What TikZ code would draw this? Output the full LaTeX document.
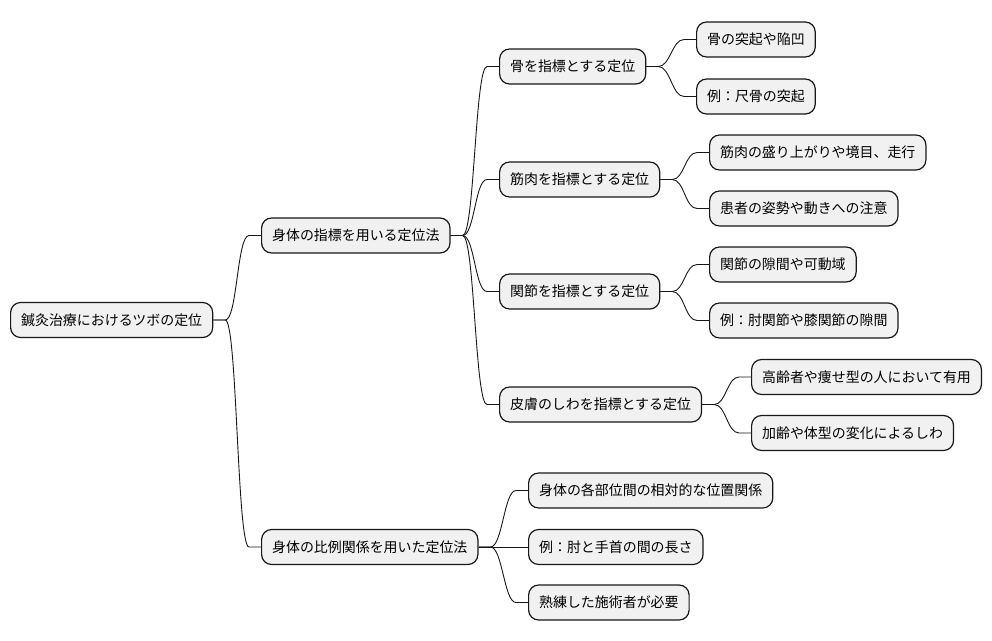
\documentclass[tikz,border=0pt]{standalone}
\usepackage{fontspec}
\newfontfamily\cjk{Noto Sans CJK JP}
\definecolor{boxfill}{HTML}{F1F1F1}
\definecolor{boxline}{HTML}{181818}
\tikzset{
  box/.style={draw=boxline, fill=boxfill, rounded corners=10pt, line width=1.2pt,
    minimum height=35pt, inner xsep=10.5pt, inner ysep=0pt, anchor=west,
    font=\cjk\fontsize{13.95}{16}\selectfont, text=black},
  link/.style={draw=boxline, line width=0.9pt}
}
\newcommand{\conn}[2]{\draw[link] (#1.east) -- ++(12,0) .. controls +(12,0) and +(-12,0) .. ([xshift=-12pt]#2.west) -- (#2.west);}
\begin{document}
\begin{tikzpicture}[x=1pt,y=-1pt]
\useasboundingbox (0,0) rectangle (992,640);
\node[box] (root) at (10,320) {鍼灸治療におけるツボの定位};
\node[box] (a) at (261,235.5) {身体の指標を用いる定位法};
\node[box] (b) at (261,547) {身体の比例関係を用いた定位法};
\node[box] (a1) at (499,66.5) {骨を指標とする定位};
\node[box] (a2) at (499,179.5) {筋肉を指標とする定位};
\node[box] (a3) at (499,291.5) {関節を指標とする定位};
\node[box] (a4) at (499,404.5) {皮膚のしわを指標とする定位};
\node[box] (a11) at (696,39.5) {骨の突起や陥凹};
\node[box] (a12) at (696,96.5) {例：尺骨の突起};
\node[box] (a21) at (709,152.5) {筋肉の盛り上がりや境目、走行};
\node[box] (a22) at (709,208.5) {患者の姿勢や動きへの注意};
\node[box] (a31) at (709,264.5) {関節の隙間や可動域};
\node[box] (a32) at (709,320.5) {例：肘関節や膝関節の隙間};
\node[box] (a41) at (751,377) {高齢者や痩せ型の人において有用};
\node[box] (a42) at (751,433) {加齢や体型の変化によるしわ};
\node[box] (b1) at (528,490.5) {身体の各部位間の相対的な位置関係};
\node[box] (b2) at (528,547) {例：肘と手首の間の長さ};
\node[box] (b3) at (528,602.5) {熟練した施術者が必要};
\conn{root}{a}
\conn{root}{b}
\conn{a}{a1}
\conn{a}{a2}
\conn{a}{a3}
\conn{a}{a4}
\conn{a1}{a11}
\conn{a1}{a12}
\conn{a2}{a21}
\conn{a2}{a22}
\conn{a3}{a31}
\conn{a3}{a32}
\conn{a4}{a41}
\conn{a4}{a42}
\conn{b}{b1}
\conn{b}{b2}
\conn{b}{b3}
\end{tikzpicture}
\end{document}
